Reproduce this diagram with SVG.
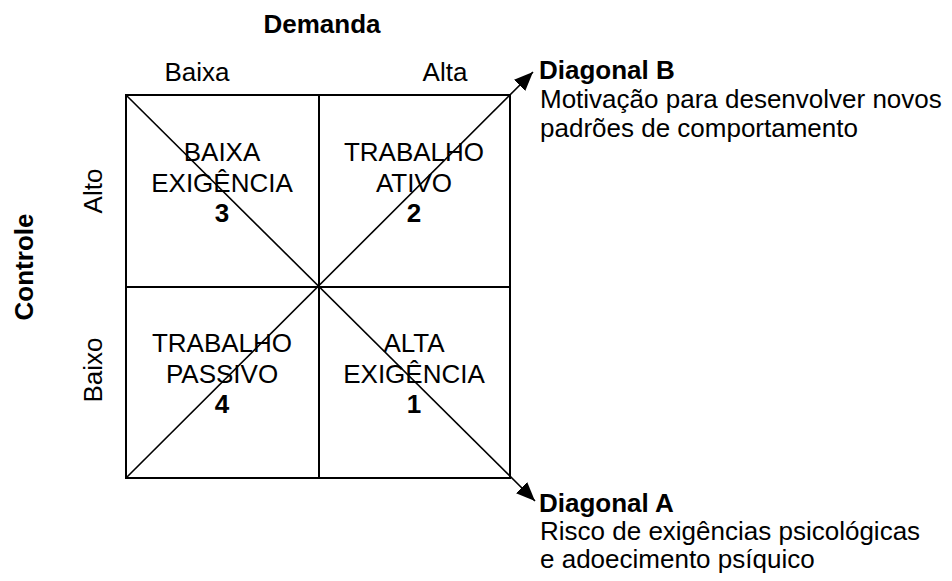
<svg xmlns="http://www.w3.org/2000/svg" width="952" height="581" viewBox="0 0 952 581">
<defs>
<style>
text{font-family:"Liberation Sans",Arial,sans-serif;font-size:26px;fill:#000}
.b{font-weight:bold}
.c{text-anchor:middle}
.box{fill:none;stroke:#000;stroke-width:2}
.diag{stroke:#000;stroke-width:1.6;fill:none}
</style>
<marker id="ah" markerUnits="userSpaceOnUse" markerWidth="20" markerHeight="16" refX="19" refY="8" orient="auto">
<path d="M0,0 L19,8 L0,16 z" fill="#000"/>
</marker>
</defs>
<rect width="952" height="581" fill="#fff"/>
<g id="axes">
<text class="b c" x="322" y="33">Demanda</text>
<text class="c" x="197" y="81">Baixa</text>
<text class="c" x="445" y="81">Alta</text>
<text class="b c" transform="translate(33,267) rotate(-90)">Controle</text>
<text class="c" transform="translate(102,191) rotate(-90)">Alto</text>
<text class="c" transform="translate(102,370) rotate(-90)">Baixo</text>
</g>
<g id="grid">
<rect class="box" x="126" y="95" width="384" height="383"/>
<line class="box" x1="319" y1="95" x2="319" y2="478"/>
<line class="box" x1="126" y1="287" x2="510" y2="287"/>
</g>
<g id="connectors">
<line class="diag" x1="126" y1="478" x2="533" y2="72" marker-end="url(#ah)"/>
<line class="diag" x1="126" y1="95" x2="535" y2="501" marker-end="url(#ah)"/>
</g>
<g id="cell3">
<text class="c" x="222" y="161">BAIXA</text>
<text class="c" x="222" y="192">EXIGÊNCIA</text>
<text class="b c" x="222" y="222">3</text>
</g>
<g id="cell2">
<text class="c" x="414" y="161">TRABALHO</text>
<text class="c" x="414" y="192">ATIVO</text>
<text class="b c" x="414" y="222">2</text>
</g>
<g id="cell4">
<text class="c" x="222" y="352">TRABALHO</text>
<text class="c" x="222" y="383">PASSIVO</text>
<text class="b c" x="222" y="413">4</text>
</g>
<g id="cell1">
<text class="c" x="414" y="352">ALTA</text>
<text class="c" x="414" y="383">EXIGÊNCIA</text>
<text class="b c" x="414" y="413">1</text>
</g>
<g id="diagonalB">
<text class="b" x="539" y="79">Diagonal B</text>
<text x="540" y="108">Motivação para desenvolver novos</text>
<text x="540" y="137">padrões de comportamento</text>
</g>
<g id="diagonalA">
<text class="b" x="539" y="512">Diagonal A</text>
<text x="540" y="540">Risco de exigências psicológicas</text>
<text x="540" y="568">e adoecimento psíquico</text>
</g>
</svg>
